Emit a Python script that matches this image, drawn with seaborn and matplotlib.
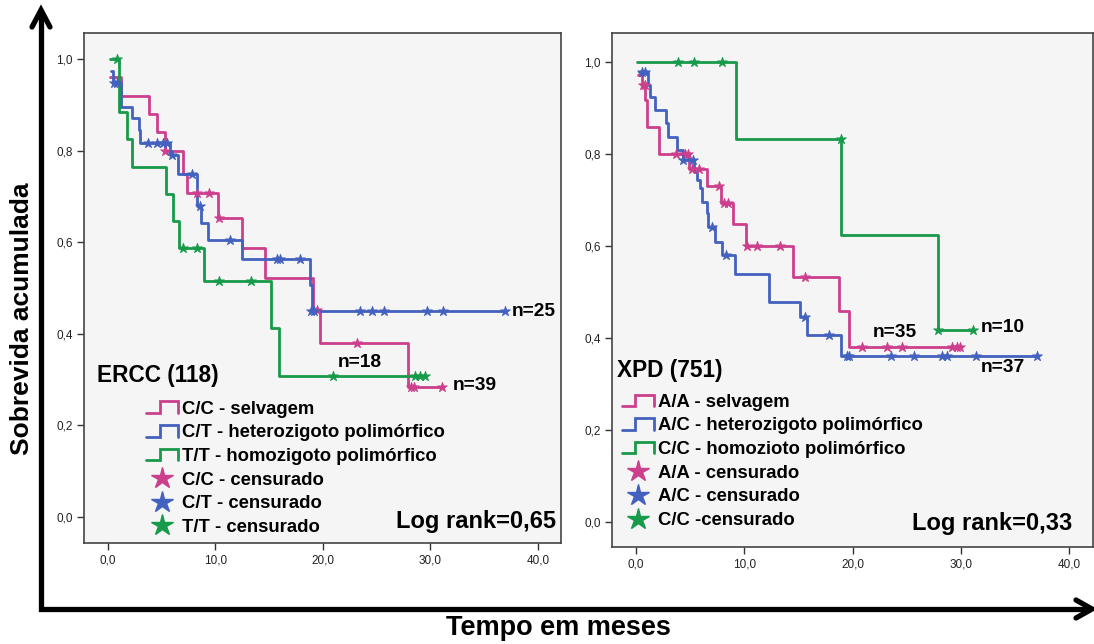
import numpy as np
import pandas as pd
import matplotlib
matplotlib.use("Agg")
import matplotlib.pyplot as plt
import seaborn as sns
from matplotlib.lines import Line2D
from matplotlib.legend_handler import HandlerBase

# ---------------- data: ERCC (118) ----------------
ercc_labels = ["C/C - selvagem", "C/T - heterozigoto polimórfico", "T/T - homozigoto polimórfico",
               "C/C - censurado", "C/T - censurado", "T/T - censurado"]
ercc_cc_t = [0.19, 1.21, 3.81, 4.56, 5.3, 6.98, 7.35, 10.23, 12.47, 14.6, 19.07, 19.7, 27.9, 31.07]
ercc_cc_s = [0.96, 0.92, 0.88, 0.84, 0.80, 0.75, 0.707, 0.653, 0.587, 0.522, 0.452, 0.38, 0.284, 0.284]
ercc_cc_ct = [5.3, 8.28, 9.4, 10.3, 19.4, 23.2, 28.2, 28.5, 31.07]
ercc_cc_cs = [0.80, 0.707, 0.707, 0.653, 0.452, 0.38, 0.284, 0.284, 0.284]

ercc_ct_t = [0.28, 0.47, 1.21, 2.23, 2.88, 2.98, 5.77, 6.5, 8.28, 8.65, 9.3, 12.47, 18.8, 18.98, 36.9]
ercc_ct_s = [0.974, 0.948, 0.895, 0.871, 0.845, 0.816, 0.79, 0.75, 0.68, 0.642, 0.605, 0.563, 0.506, 0.45, 0.45]
ercc_ct_ct = [0.56, 0.84, 3.72, 4.56, 5.1, 5.5, 5.95, 7.8, 8.56, 11.35, 15.7, 16.0, 17.9,
              18.9, 19.2, 23.4, 24.6, 25.7, 29.7, 31.2, 36.9]
ercc_ct_cs = [0.948, 0.948, 0.816, 0.816, 0.816, 0.816, 0.79, 0.75, 0.68, 0.605, 0.563, 0.563, 0.563,
              0.45, 0.45, 0.45, 0.45, 0.45, 0.45, 0.45, 0.45]

ercc_tt_t = [0.19, 1.02, 1.77, 2.23, 5.4, 6.05, 6.6, 8.93, 15.16, 15.9, 29.5]
ercc_tt_s = [1.0, 0.884, 0.825, 0.764, 0.705, 0.646, 0.587, 0.515, 0.413, 0.308, 0.308]
ercc_tt_ct = [0.84, 7.0, 8.28, 10.3, 13.3, 20.9, 28.6, 29.0, 29.5]
ercc_tt_cs = [1.0, 0.587, 0.587, 0.515, 0.515, 0.308, 0.308, 0.308, 0.308]

# ---------------- data: XPD (751) ----------------
xpd_labels = ["A/A - selvagem", "A/C - heterozigoto polimórfico", "C/C - homozioto polimórfico",
              "A/A - censurado", "A/C - censurado", "C/C -censurado"]
xpd_aa_t = [0.18, 0.55, 0.83, 1.0, 2.12, 4.9, 6.56, 7.85, 8.96, 10.16, 14.5, 18.74, 19.67, 29.9]
xpd_aa_s = [0.972, 0.95, 0.917, 0.859, 0.80, 0.767, 0.73, 0.693, 0.648, 0.60, 0.533, 0.459, 0.38, 0.38]
xpd_aa_ct = [0.65, 0.83, 3.7, 4.5, 4.8, 5.2, 5.8, 7.66, 8.1, 8.5, 10.25, 11.2, 13.3, 15.6,
             20.9, 23.2, 24.6, 29.2, 29.6, 29.9]
xpd_aa_cs = [0.95, 0.95, 0.80, 0.80, 0.80, 0.767, 0.767, 0.73, 0.693, 0.693, 0.60, 0.60, 0.60, 0.533,
             0.38, 0.38, 0.38, 0.38, 0.38, 0.38]

xpd_ac_t = [0.28, 1.1, 1.3, 1.75, 2.77, 2.95, 3.8, 4.35, 5.35, 5.6, 5.9, 6.1, 6.55, 6.65, 7.3, 7.9,
            9.14, 12.3, 15.1, 15.8, 18.9, 37.0]
xpd_ac_s = [0.978, 0.95, 0.924, 0.896, 0.867, 0.837, 0.809, 0.787, 0.761, 0.743, 0.726, 0.696, 0.672,
            0.641, 0.609, 0.58, 0.54, 0.478, 0.446, 0.407, 0.361, 0.361]
xpd_ac_ct = [0.55, 0.83, 4.35, 5.26, 7.0, 8.3, 15.6, 17.8, 19.5, 19.7, 23.5, 25.7, 28.3, 28.7, 31.4, 37.0]
xpd_ac_cs = [0.978, 0.978, 0.787, 0.787, 0.641, 0.58, 0.446, 0.407, 0.361, 0.361, 0.361, 0.361,
             0.361, 0.361, 0.361, 0.361]

xpd_cc_t = [0.09, 9.23, 18.9, 27.9, 31.1]
xpd_cc_s = [1.0, 0.833, 0.625, 0.417, 0.417]
xpd_cc_ct = [3.9, 5.35, 7.95, 18.9, 27.9, 31.1]
xpd_cc_cs = [1.0, 1.0, 1.0, 0.833, 0.417, 0.417]

ytick_vals = [0.0, 0.2, 0.4, 0.6, 0.8, 1.0]
xtick_vals = [0, 10, 20, 30, 40]

COLORS = ["#CC3F8C", "#4361BE", "#179A4A"]

sns.set_style("white")
plt.rcParams['font.family'] = ['Liberation Sans', 'DejaVu Sans']
plt.rcParams['text.color'] = 'black'


class StepLine(Line2D):
    pass


class StepHandler(HandlerBase):
    def create_artists(self, legend, orig_handle, xdescent, ydescent, width, height, fontsize, trans):
        x0 = -xdescent
        y0 = -ydescent + height * 0.05
        y1 = -ydescent + height * 0.95
        xs = [x0, x0 + width * 0.42, x0 + width * 0.42, x0 + width, x0 + width]
        ys = [y0, y0, y1, y1, y0]
        ln = Line2D(xs, ys, color=orig_handle.get_color(), lw=orig_handle.get_linewidth(),
                    solid_joinstyle='miter')
        ln.set_transform(trans)
        return [ln]


fig = plt.figure(figsize=(10.94, 6.44), dpi=100)

# big axis arrows (decoration)
ov = fig.add_axes([0, 0, 1, 1], zorder=-5)
ov.set_xlim(0, 1094)
ov.set_ylim(644, 0)
ov.axis('off')
ov.plot([41, 41, 1090], [10, 609, 609], color='black', lw=3.8, solid_joinstyle='miter', solid_capstyle='butt')
ov.plot([32, 41, 50], [27, 10, 27], color='black', lw=3.8, solid_capstyle='round', solid_joinstyle='miter')
ov.plot([1076, 1092, 1076], [600, 609, 618], color='black', lw=3.8, solid_capstyle='round', solid_joinstyle='miter')
fig.text(22 / 1094, 1 - 319 / 644, "Sobrevida acumulada", rotation=90, ha='center', va='center',
         fontsize=19, fontweight='bold')
fig.text(558 / 1094, 1 - 628 / 644, "Tempo em meses", ha='center', va='center',
         fontsize=19.5, fontweight='bold')


def panel(rect, xlim, ylim, groups, labels, title, title_xy, ntexts, logrank, logrank_xy, leg_anchor):
    ax = fig.add_axes(rect)
    ax.set_facecolor('#F5F5F5')
    for (t, s, ct, cs), c in zip(groups, COLORS):
        d = pd.DataFrame({"t": t, "s": s})
        sns.lineplot(data=d, x="t", y="s", ax=ax, color=c, lw=2.0, drawstyle='steps-post',
                     estimator=None, sort=False, zorder=2)
        dc = pd.DataFrame({"t": ct, "s": cs})
        sns.scatterplot(data=dc, x="t", y="s", ax=ax, marker='*', s=55, color=c, edgecolor=c,
                        linewidth=0.6, zorder=3)
    ax.set_xlim(*xlim)
    ax.set_ylim(*ylim)
    ax.set_xticks(xtick_vals)
    ax.set_xticklabels([f"{v:.1f}".replace('.', ',') for v in xtick_vals])
    ax.set_yticks(ytick_vals)
    ax.set_yticklabels([f"{v:.1f}".replace('.', ',') for v in ytick_vals])
    ax.tick_params(axis='both', direction='out', length=5, width=1, color='#333333',
                   labelsize=8.5, labelcolor='#222222', left=True, bottom=True, pad=3)
    ax.set_xlabel("")
    ax.set_ylabel("")
    for sp in ax.spines.values():
        sp.set_color('#444444')
        sp.set_linewidth(1.2)
    ax.text(*title_xy, title, fontsize=16.3, fontweight='bold', ha='left', va='center')
    for (tx, ty, s) in ntexts:
        ax.text(tx, ty, s, fontsize=13.8, fontweight='bold', ha='left', va='center')
    ax.text(*logrank_xy, logrank, fontsize=17, fontweight='bold', ha='right', va='center')

    handles = [StepLine([], [], color=c, lw=2.0) for c in COLORS] + \
              [Line2D([], [], color=c, marker='*', ls='none', ms=16) for c in COLORS]
    ax.legend(handles, labels, handler_map={StepLine: StepHandler()}, loc='upper left',
              bbox_to_anchor=leg_anchor, frameon=False, prop={'size': 13.3, 'weight': 'bold'},
              handlelength=1.75, handletextpad=0.2, labelspacing=0.36, borderpad=0, borderaxespad=0)
    return ax


panel([84 / 1094, 1 - 543 / 644, 477 / 1094, 510 / 644], (-2.23, 42.14), (-0.057, 1.057),
      [(ercc_cc_t, ercc_cc_s, ercc_cc_ct, ercc_cc_cs),
       (ercc_ct_t, ercc_ct_s, ercc_ct_ct, ercc_ct_cs),
       (ercc_tt_t, ercc_tt_s, ercc_tt_ct, ercc_tt_cs)],
      ercc_labels, "ERCC (118)", (-1.02, 0.308),
      [(37.6, 0.448, "n=25"), (21.4, 0.338, "n=18"), (32.1, 0.288, "n=39")],
      "Log rank=0,65", (41.7, -0.009), (0.13, 0.279))

panel([612 / 1094, 1 - 547 / 644, 481 / 1094, 514 / 644], (-2.22, 42.2), (-0.054, 1.063),
      [(xpd_aa_t, xpd_aa_s, xpd_aa_ct, xpd_aa_cs),
       (xpd_ac_t, xpd_ac_s, xpd_ac_ct, xpd_ac_cs),
       (xpd_cc_t, xpd_cc_s, xpd_cc_ct, xpd_cc_cs)],
      xpd_labels, "XPD (751)", (-1.75, 0.33),
      [(21.9, 0.413, "n=35"), (31.8, 0.422, "n=10"), (31.8, 0.337, "n=37")],
      "Log rank=0,33", (40.3, -0.004), (0.02, 0.298))

fig.savefig("out.png", dpi=100)
